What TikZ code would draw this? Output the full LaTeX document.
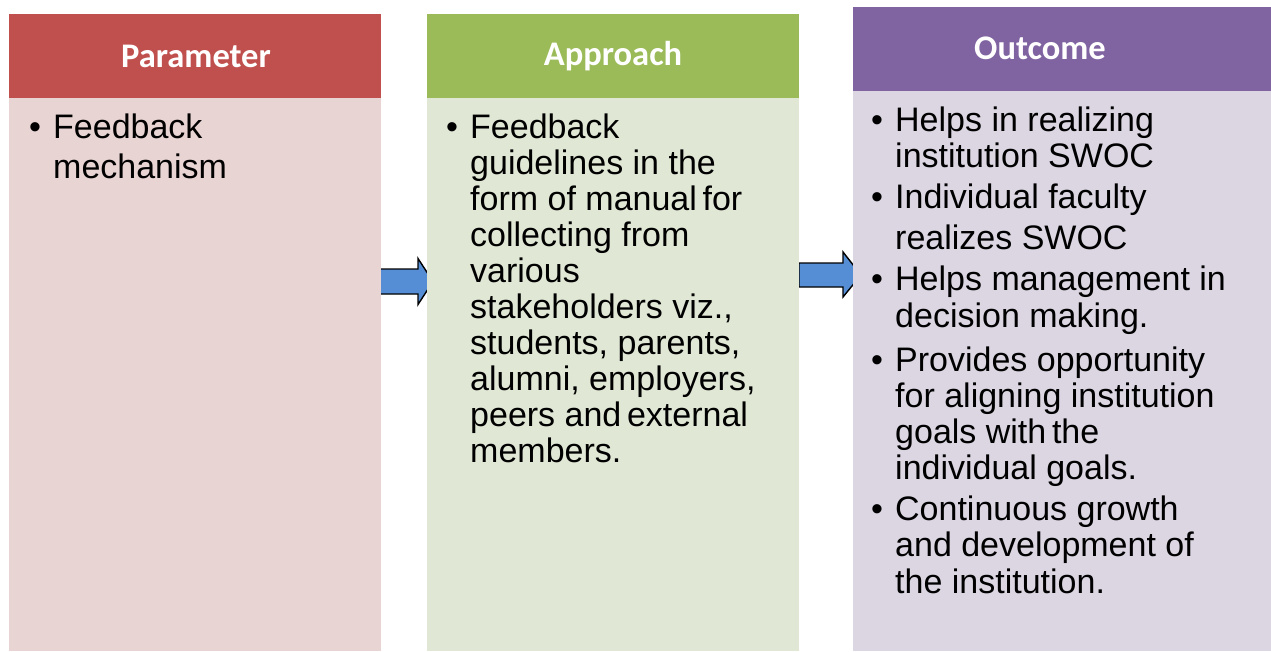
\documentclass[tikz,border=0pt]{standalone}
\usepackage{fontspec}
\setmainfont{Liberation Sans}
\newfontfamily\hdfont{Carlito}
\definecolor{hdred}{RGB}{192,80,77}
\definecolor{bdred}{RGB}{232,212,211}
\definecolor{hdgreen}{RGB}{155,187,89}
\definecolor{bdgreen}{RGB}{224,232,213}
\definecolor{hdpurple}{RGB}{128,100,162}
\definecolor{bdpurple}{RGB}{220,214,227}
\definecolor{arrblue}{RGB}{85,142,213}
\newcommand{\bitem}[2][36pt]{\vtop{\hsize=420pt\rightskip=0pt plus 1fil\parfillskip=0pt plus 1fil\baselineskip=#1\hangindent=24pt\hangafter=1\noindent\makebox[24pt][l]{\textbullet}#2\par}}
\tikzset{
  hdr/.style={font=\hdfont\bfseries\fontsize{34.5}{38}\selectfont, text=white, inner sep=0pt},
  itemtxt/.style={anchor=base west, inner sep=0pt, font=\fontsize{34}{36}\selectfont},
  blockarrow/.style={draw=black, line width=1.4pt, fill=arrblue, line join=miter},
}
\begin{document}
\begin{tikzpicture}[x=1pt,y=-1pt]
\useasboundingbox (0,0) rectangle (1271,651);
% arrows (drawn under the columns)
\coordinate (a1) at (378,281.5);
\draw[blockarrow] (a1) ++(0,-12.5) -- ++(40,0) -- ++(0,-10.5) -- (433,281.5) -- (418,304.5) -- ++(0,-10.5) -- (378,294) -- cycle;
\coordinate (a2) at (799,275);
\draw[blockarrow] (a2) ++(0,-12) -- ++(44,0) -- ++(0,-11) -- (861,275) -- (843,297) -- ++(0,-10) -- (799,287) -- cycle;
% columns
\fill[bdred] (9,98) rectangle (381,651);
\fill[hdred] (9,14) rectangle (381,98);
\fill[bdgreen] (427,98) rectangle (799,651);
\fill[hdgreen] (427,14) rectangle (799,98);
\fill[bdpurple] (853,91) rectangle (1271,651);
\fill[hdpurple] (853,7) rectangle (1271,91);
% headers
\node[hdr] (h1) at (196,56) {Parameter};
\node[hdr] (h2) at (613,56) {Approach};
\node[hdr] (h3) at (1040,48) {Outcome};
% column 1
\node[itemtxt] (p1) at (29,138) {\bitem[40pt]{Feedback\newline mechanism}};
% column 2
\node[itemtxt] (q1) at (446,138) {\bitem{Feedback\newline guidelines in the\newline form of manual\,for\newline collecting from\newline various\newline stakeholders viz.,\newline students, parents,\newline alumni, employers,\newline peers and\,external\newline members.}};
% column 3
\node[itemtxt] (r1) at (871,131) {\bitem{Helps in realizing\newline institution SWOC}};
\node[itemtxt] (r2) at (871,208) {\bitem[41pt]{Individual faculty\newline realizes SWOC}};
\node[itemtxt] (r3) at (871,290) {\bitem[37pt]{Helps management in\newline decision making.}};
\node[itemtxt] (r4) at (871,371) {\bitem{Provides opportunity\newline for aligning institution\newline goals with\,the\newline individual goals.}};
\node[itemtxt] (r5) at (871,520) {\bitem[36.5pt]{Continuous growth\newline and development of\newline the institution.}};
\end{tikzpicture}
\end{document}
